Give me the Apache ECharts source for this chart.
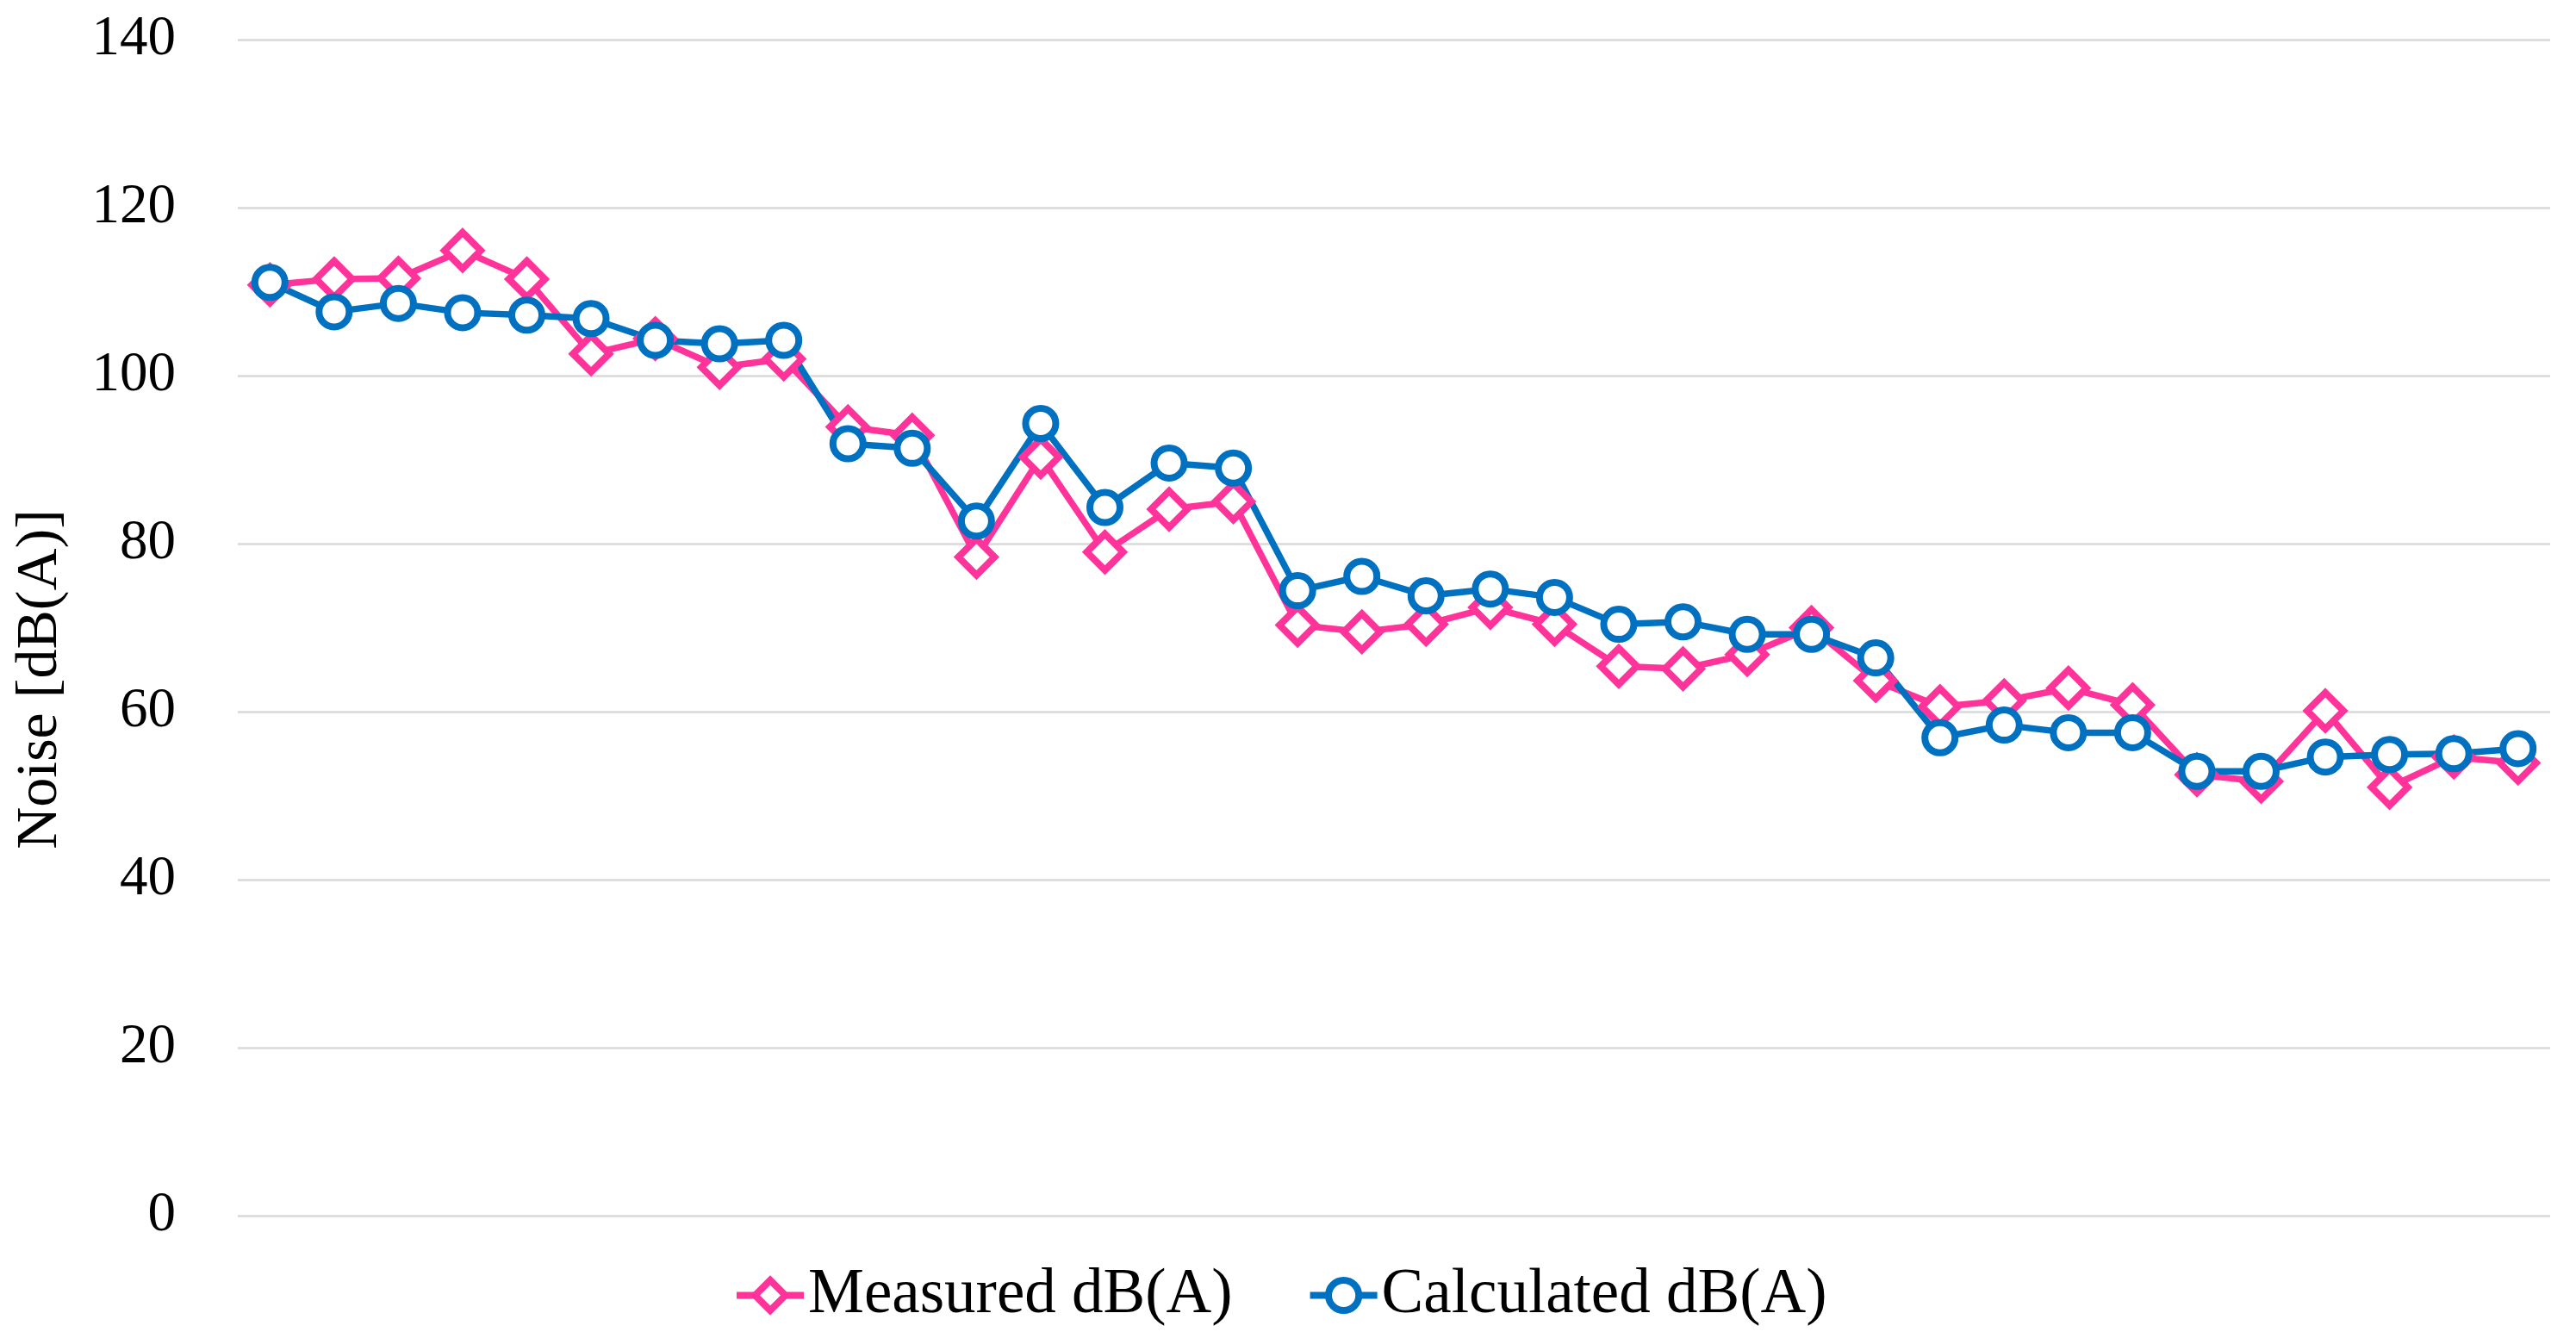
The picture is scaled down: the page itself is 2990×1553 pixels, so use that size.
<!DOCTYPE html>
<html>
<head>
<meta charset="utf-8">
<script src="https://cdn.jsdelivr.net/npm/echarts@6/dist/echarts.min.js"></script>
<style>
  html, body { margin: 0; padding: 0; background: #ffffff; }
  #chart { width: 2990px; height: 1553px; }
</style>
</head>
<body>
<div id="chart"></div>
<script>
const categories = ['1','2','3','4','5','6','7','8','9','10','11','12','13','14','15','16','17','18',
                    '19','20','21','22','23','24','25','26','27','28','29','30','31','32','33','34','35','36'];
const measured = [110.8, 111.5, 111.6, 114.9, 111.5, 102.6, 104.4, 101.0, 102.0, 93.9, 92.9, 78.4,
                  90.3, 79.0, 84.1, 85.0, 70.3, 69.5, 70.4, 72.4, 70.4, 65.4, 65.1, 66.8,
                  70.0, 63.7, 60.6, 61.3, 62.8, 60.8, 52.5, 51.7, 60.1, 51.0, 54.6, 53.9];
const calculated = [111.1, 107.6, 108.6, 107.5, 107.2, 106.8, 104.2, 103.8, 104.2, 91.9, 91.35, 82.7,
                    94.3, 84.3, 89.6, 89.0, 74.4, 76.1, 73.8, 74.6, 73.6, 70.4, 70.7, 69.2,
                    69.2, 66.4, 56.9, 58.4, 57.5, 57.5, 52.9, 52.9, 54.6, 54.9, 55.0, 55.6];
const seriesNames = ['Measured dB(A)', 'Calculated dB(A)'];
const yTitle = 'Noise [dB(A)]';

const FONT = '"Liberation Serif", "DejaVu Serif", serif';
const PINK = '#FF3399';
const BLUE = '#0070C0';

const chart = echarts.init(document.getElementById('chart'), null, { renderer: 'canvas' });
chart.setOption({
  animation: false,
  backgroundColor: '#ffffff',
  grid: { left: 276, right: 30, top: 46, bottom: 142 },
  legend: {
    data: [
      { name: seriesNames[0], itemStyle: { color: '#ffffff', borderColor: PINK, borderWidth: 8 }, lineStyle: { color: PINK, width: 8 } },
      { name: seriesNames[1], itemStyle: { color: '#ffffff', borderColor: BLUE, borderWidth: 8 }, lineStyle: { color: BLUE, width: 8 } }
    ],
    top: 1462,
    left: 846,
    itemWidth: 78,
    itemHeight: 44,
    itemGap: 86,
    textStyle: { fontFamily: FONT, fontSize: 73, color: '#000' }
  },
  xAxis: {
    type: 'category',
    data: categories,
    boundaryGap: true,
    axisLine: { show: false },
    axisTick: { show: false },
    axisLabel: { show: false },
    splitLine: { show: false }
  },
  yAxis: {
    type: 'value',
    min: 0,
    max: 140,
    interval: 20,
    name: yTitle,
    nameLocation: 'middle',
    nameGap: 195,
    nameRotate: 90,
    nameTextStyle: { fontFamily: FONT, fontSize: 68, color: '#000', padding: [0, 120, 0, 0] },
    axisLine: { show: false },
    axisTick: { show: false },
    axisLabel: { fontFamily: FONT, fontSize: 65, color: '#000', margin: 72 },
    splitLine: { lineStyle: { color: '#D9D9D9', width: 2.5 } }
  },
  series: [
    {
      name: seriesNames[0],
      type: 'line',
      data: measured,
      symbol: 'diamond',
      symbolSize: 42,
      color: PINK,
      lineStyle: { color: PINK, width: 7.5 },
      itemStyle: { color: '#ffffff', borderColor: PINK, borderWidth: 8 }
    },
    {
      name: seriesNames[1],
      type: 'line',
      data: calculated,
      symbol: 'circle',
      symbolSize: 35,
      color: BLUE,
      lineStyle: { color: BLUE, width: 7.5 },
      itemStyle: { color: '#ffffff', borderColor: BLUE, borderWidth: 8 }
    }
  ]
});
</script>
</body>
</html>
